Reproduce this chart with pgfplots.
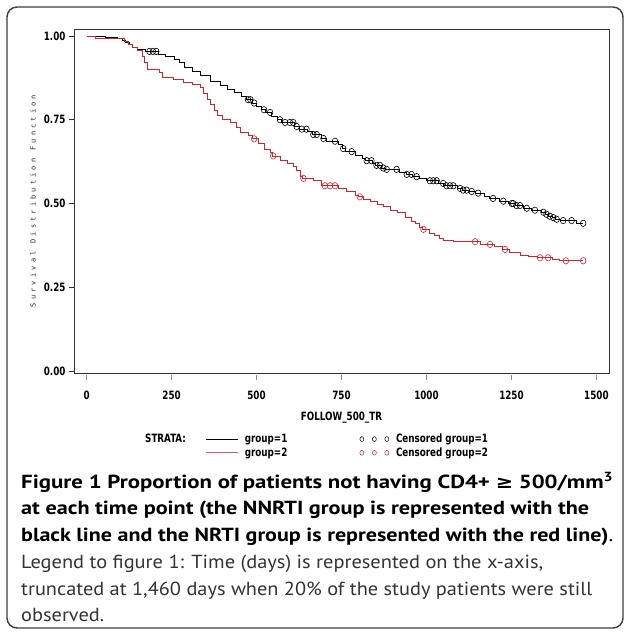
\documentclass[border=0pt]{standalone}
\usepackage{fontspec}
\usepackage{graphicx}
\usepackage{pgfplots}
\pgfplotsset{compat=1.18}
\setmainfont{PT Sans}
\newfontfamily\capbold[FakeStretch=1.15]{PT Sans}
\newfontfamily\caplight[FakeStretch=1.06]{PT Sans}
\newfontfamily\sas[FakeStretch=0.85]{DejaVu Sans Condensed}
\newfontfamily\sasmono{DejaVu Sans Mono}
\newfontfamily\symb[FakeStretch=1.1]{DejaVu Sans}
\definecolor{kmred}{RGB}{210,35,45}
\definecolor{boxgray}{RGB}{60,60,60}
\pgfplotsset{
  legline/.style={legend image code/.code={\draw[##1] (0bp,0bp) -- (32bp,0bp);}},
  legcirc/.style={legend image code/.code={\draw[##1] plot coordinates {(2bp,0bp) (14.5bp,0bp) (27bp,0bp)}; \path (30bp,0bp);}},
}
\newcommand{\sasfont}{\sas\bfseries\fontsize{11.5}{12}\selectfont}
\newcommand{\capline}[2]{\resizebox{#1bp}{\height}{#2}}

\begin{document}
\begin{tikzpicture}[x=1bp,y=1bp]
\useasboundingbox (0,0) rectangle (624,-632);
\draw[boxgray, line width=1.4bp, rounded corners=10bp] (7,-7) rectangle (623,-628);

\begin{axis}[
  at={(74bp,-373bp)}, anchor=south west,
  width=535bp, height=344bp, scale only axis,
  xmin=-37, xmax=1537, ymin=-0.006, ymax=1.021,
  xtick={0,250,500,750,1000,1250,1500},
  ytick={0,0.25,0.5,0.75,1},
  xtick pos=bottom, ytick pos=left,
  tick align=outside, major tick length=5bp,
  xtick style={black!45, line width=0.9bp, yshift=-2bp},
  ytick style={black!80, line width=0.8bp},
  axis line style={black!80, line width=0.9bp},
  /pgf/number format/assume math mode=true,
  /pgf/number format/1000 sep={},
  yticklabel style={/pgf/number format/.cd, fixed, fixed zerofill, precision=2},
  tick label style={font=\sasfont},
  xticklabel style={yshift=-9bp},
  xlabel={FOLLOW\_500\_TR},
  every axis x label/.style={at={(axis description cs:0.5,-0.1299)}, anchor=center,
    font=\sasfont},
  ylabel={\addfontfeature{LetterSpace=45}Survival\hspace{8bp}Distribution\hspace{8bp}Function},
  every axis y label/.style={at={(axis description cs:-0.0766,0.5)}, rotate=90, anchor=center,
    font=\sasmono\fontsize{7}{8}\selectfont, text=black!85},
  legend columns=2,
  legend style={at={(axis description cs:0.2467,-0.1744)}, anchor=north west,
    draw=none, fill=none, inner sep=0pt, outer sep=0pt, row sep=1.5bp,
    font=\sasfont,
    nodes={inner xsep=3bp, inner ysep=1bp},
    /tikz/every even column/.append style={column sep=69.5bp},
    /tikz/every odd column/.append style={column sep=3bp}},
  legend cell align=left,
]

% group=1 (black)
\addplot[const plot, black, line width=0.8bp, forget plot] table {
0 1.000
56 0.997
90 0.993
105 0.988
115 0.982
125 0.974
135 0.966
150 0.961
172 0.954
210 0.944
232 0.938
257 0.931
272 0.920
287 0.907
310 0.895
336 0.882
365 0.866
395 0.852
415 0.842
434 0.832
455 0.820
470 0.810
488 0.800
500 0.790
515 0.780
525 0.772
545 0.760
560 0.750
572 0.742
612 0.730
625 0.722
650 0.714
665 0.706
690 0.694
705 0.686
740 0.676
752 0.664
762 0.655
790 0.645
810 0.636
820 0.628
840 0.620
850 0.614
868 0.606
880 0.602
920 0.594
940 0.587
960 0.580
980 0.574
1000 0.568
1035 0.560
1050 0.553
1090 0.545
1105 0.540
1125 0.536
1145 0.531
1170 0.522
1185 0.515
1215 0.507
1240 0.500
1262 0.494
1285 0.486
1310 0.480
1338 0.474
1350 0.468
1360 0.462
1370 0.458
1380 0.453
1395 0.449
1440 0.441
1461 0.441
};

% group=2 (red)
\addplot[const plot, kmred, line width=0.8bp, forget plot] table {
0 1.000
25 0.993
112 0.985
122 0.976
135 0.966
150 0.956
163 0.940
170 0.920
178 0.901
215 0.892
222 0.877
255 0.872
285 0.862
312 0.855
335 0.847
345 0.830
355 0.812
365 0.795
375 0.778
385 0.762
400 0.752
424 0.742
440 0.727
453 0.712
475 0.703
488 0.693
505 0.680
522 0.663
540 0.652
548 0.642
570 0.630
590 0.620
608 0.612
618 0.598
628 0.582
636 0.575
667 0.568
690 0.553
740 0.545
765 0.535
790 0.525
800 0.520
815 0.512
835 0.505
855 0.497
872 0.490
895 0.480
915 0.472
937 0.458
955 0.448
966 0.440
980 0.430
988 0.423
1010 0.412
1022 0.405
1038 0.397
1050 0.391
1078 0.386
1160 0.378
1200 0.371
1222 0.363
1245 0.355
1275 0.346
1300 0.342
1325 0.338
1370 0.333
1390 0.329
1461 0.329
};

% censored group=1
\addplot[only marks, mark=o, mark size=2.8bp,
  mark options={black, line width=0.6bp, yscale=1.15}, forget plot] table {
185 0.954
195 0.954
205 0.954
475 0.810
482 0.810
493 0.800
522 0.780
540 0.772
569 0.750
584 0.742
598 0.742
608 0.742
618 0.730
633 0.722
647 0.722
667 0.706
677 0.706
697 0.694
731 0.686
755 0.664
780 0.655
824 0.628
838 0.628
853 0.614
863 0.614
873 0.606
883 0.602
912 0.602
942 0.587
956 0.587
971 0.580
1010 0.568
1020 0.568
1030 0.568
1049 0.560
1059 0.553
1069 0.553
1079 0.553
1099 0.545
1108 0.540
1118 0.540
1133 0.536
1152 0.531
1196 0.515
1226 0.507
1251 0.500
1255 0.500
1265 0.494
1275 0.494
1295 0.486
1319 0.480
1344 0.474
1353 0.468
1363 0.462
1373 0.458
1383 0.453
1402 0.449
1427 0.449
1461 0.441
};

% censored group=2
\addplot[only marks, mark=o, mark size=2.8bp,
  mark options={kmred, line width=0.6bp, yscale=1.15}, forget plot] table {
493 0.693
549 0.642
638 0.575
701 0.553
716 0.553
731 0.553
804 0.520
991 0.423
1143 0.386
1187 0.378
1231 0.363
1334 0.338
1358 0.338
1410 0.329
1461 0.329
};

\addlegendimage{black, line width=0.8bp, legline}
\addlegendentry{group=1}
\addlegendimage{only marks, mark=o, mark size=2bp, mark options={black, line width=0.5bp, yscale=1.2}, legcirc}
\addlegendentry{Censored group=1}
\addlegendimage{kmred!75, line width=0.8bp, legline}
\addlegendentry{group=2}
\addlegendimage{only marks, mark=o, mark size=2bp, mark options={kmred, line width=0.5bp, yscale=1.2}, legcirc}
\addlegendentry{Censored group=2}
\end{axis}

\node[anchor=west, inner sep=0pt, font=\sasfont] at (145,-438.5) {STRATA:};

\begin{scope}[every node/.style={anchor=base west, inner sep=0pt}]
\node at (21,-488) {\capline{592}{\capbold\bfseries\fontsize{19}{22}\selectfont Figure 1 Proportion of patients not having CD4+ {\symb\bfseries\fontsize{18}{22}\selectfont ≥} 500/mm\textsuperscript{3}}};
\node at (21,-514.5) {\capline{568}{\capbold\bfseries\fontsize{19}{22}\selectfont at each time point (the NNRTI group is represented with the}};
\node at (21,-541) {\capline{592}{\capbold\fontsize{19}{22}\selectfont{\bfseries black line and the NRTI group is represented with the red line)}.}};
\node[text=black!80] at (21,-568) {\capline{522}{\caplight\fontsize{19}{22}\selectfont Legend to figure 1: Time (days) is represented on the x-axis,}};
\node[text=black!80] at (21,-595) {\capline{571}{\caplight\fontsize{19}{22}\selectfont truncated at 1,460 days when 20\% of the study patients were still}};
\node[text=black!80] at (21,-621) {\capline{83}{\caplight\fontsize{19}{22}\selectfont observed.}};
\end{scope}
\end{tikzpicture}
\end{document}
